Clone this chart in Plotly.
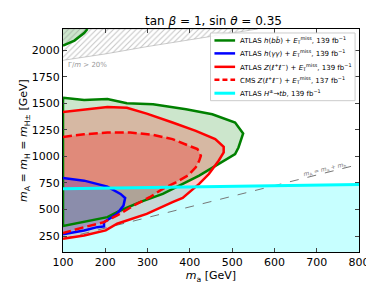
import plotly.graph_objects as go

# ---- data (GeV) ----
bb_x = [100, 150, 205, 251, 313, 391, 453, 507, 526, 515, 507, 468, 422, 375, 336, 282, 236, 205, 150, 100]
bb_y = [1553, 1531, 1541, 1500, 1491, 1444, 1397, 1319, 1216, 1084, 1022, 928, 819, 725, 647, 569, 491, 428, 381, 344]

bb2_x = [100, 127, 150, 158, 100]
bb2_y = [2044, 2091, 2162, 2200, 2200]

zll_x = [100, 150, 205, 251, 298, 359, 414, 460, 480, 480, 468, 445, 422, 406, 383, 359, 298, 228, 201, 150, 100]
zll_y = [1419, 1444, 1466, 1459, 1403, 1319, 1241, 1163, 1091, 1037, 960, 834, 741, 687, 609, 569, 459, 366, 303, 256, 225]

cms_x = [100, 150, 205, 259, 313, 359, 398, 418, 426, 422, 414, 395, 367, 336, 305, 267, 228, 197, 150, 100]
cms_y = [1184, 1209, 1225, 1225, 1203, 1163, 1100, 1069, 1006, 959, 897, 819, 756, 694, 616, 537, 444, 381, 334, 278]

gg_x = [100, 150, 205, 236, 247, 243, 228, 209, 197, 197, 181, 150, 100]
gg_y = [797, 772, 716, 647, 609, 537, 459, 412, 381, 341, 334, 303, 266]

htb_x = [100, 800]
htb_y = [695, 735]

width_x = [100, 200, 300, 400, 450, 560, 100]
width_y = [1905, 1965, 2035, 2100, 2130, 2200, 2200]

diag_x = [100, 800]
diag_y = [225, 925]

x_ticks = [100, 200, 300, 400, 500, 600, 700, 800]
y_ticks = [250, 500, 750, 1000, 1250, 1500, 1750, 2000]

legend_labels = [
    "ATLAS <i>h</i>(<i>b</i><i>b̄</i>) + <i>E</i><sub>T</sub><sup>miss</sup>, 139 fb<sup>−1</sup>",
    "ATLAS <i>h</i>(<i>γγ</i>) + <i>E</i><sub>T</sub><sup>miss</sup>, 139 fb<sup>−1</sup>",
    "ATLAS <i>Z</i>(<i>ℓ</i><sup>+</sup><i>ℓ</i><sup>−</sup>) + <i>E</i><sub>T</sub><sup>miss</sup>, 139 fb<sup>−1</sup>",
    "CMS <i>Z</i>(<i>ℓ</i><sup>+</sup><i>ℓ</i><sup>−</sup>) + <i>E</i><sub>T</sub><sup>miss</sup>, 137 fb<sup>−1</sup>",
    "ATLAS <i>H</i><sup>±</sup>→<i>tb</i>, 139 fb<sup>−1</sup>",
]
legend_colors = ["#008000", "blue", "red", "red", "cyan"]
legend_dash = ["solid", "solid", "solid", "dash", "solid"]

GREEN = "#008000"
fig = go.Figure()

# fills
fig.add_trace(go.Scatter(x=bb_x, y=bb_y, fill="toself", fillcolor="rgba(0,128,0,0.2)",
                         line=dict(width=0), mode="lines", showlegend=False, hoverinfo="skip"))
fig.add_trace(go.Scatter(x=bb2_x, y=bb2_y, fill="toself", fillcolor="rgba(0,128,0,0.2)",
                         line=dict(width=0), mode="lines", showlegend=False, hoverinfo="skip"))
fig.add_trace(go.Scatter(x=zll_x, y=zll_y, fill="toself", fillcolor="rgba(255,0,0,0.2)",
                         line=dict(width=0), mode="lines", showlegend=False, hoverinfo="skip"))
fig.add_trace(go.Scatter(x=cms_x, y=cms_y, fill="toself", fillcolor="rgba(255,0,0,0.25)",
                         line=dict(width=0), mode="lines", showlegend=False, hoverinfo="skip"))
fig.add_trace(go.Scatter(x=gg_x, y=gg_y, fill="toself", fillcolor="rgba(0,0,255,0.2)",
                         line=dict(width=0), mode="lines", showlegend=False, hoverinfo="skip"))
# cyan excluded region (on top of the other fills)
fig.add_trace(go.Scatter(x=htb_x + [800, 100], y=htb_y + [100, 100], fill="toself",
                         fillcolor="rgba(0,255,255,0.22)", line=dict(width=0),
                         mode="lines", showlegend=False, hoverinfo="skip"))
# hatched width region
fig.add_trace(go.Scatter(x=width_x, y=width_y, fill="toself", fillcolor="rgba(0,0,0,0)",
                         fillpattern=dict(shape="/", fgcolor="#888888", size=4, solidity=0.25),
                         line=dict(width=0.5, color="#999999"), mode="lines",
                         showlegend=False, hoverinfo="skip"))
# diagonal
fig.add_trace(go.Scatter(x=diag_x, y=diag_y, mode="lines",
                         line=dict(color="#777777", width=1, dash="dash"),
                         showlegend=False, hoverinfo="skip"))

# contour lines
fig.add_trace(go.Scatter(x=bb_x + [bb_x[0]], y=bb_y + [bb_y[0]], mode="lines",
                         line=dict(color=GREEN, width=2.5), showlegend=False, hoverinfo="skip"))
fig.add_trace(go.Scatter(x=bb2_x[:4], y=bb2_y[:4], mode="lines",
                         line=dict(color=GREEN, width=2.5), showlegend=False, hoverinfo="skip"))
fig.add_trace(go.Scatter(x=gg_x, y=gg_y, mode="lines", line=dict(color="blue", width=2.5),
                         showlegend=False, hoverinfo="skip"))
fig.add_trace(go.Scatter(x=zll_x, y=zll_y, mode="lines", line=dict(color="red", width=2.5),
                         showlegend=False, hoverinfo="skip"))
fig.add_trace(go.Scatter(x=cms_x, y=cms_y, mode="lines", line=dict(color="red", width=2.5, dash="9px,4px"),
                         showlegend=False, hoverinfo="skip"))
fig.add_trace(go.Scatter(x=htb_x, y=htb_y, mode="lines", line=dict(color="cyan", width=3),
                         showlegend=False, hoverinfo="skip"))

fig.add_annotation(x=158, y=1862, text="Γ/<i>m</i> > 20%", showarrow=False,
                   font=dict(size=7, color="#999999"))
fig.add_annotation(x=720, y=880, text="<i>m</i><sub>A</sub> = <i>m</i><sub>a</sub> + <i>m</i><sub>h</sub>",
                   showarrow=False, textangle=-14, font=dict(size=6, color="#777777"))

# manual legend (pixel positions converted to paper coords)
PX0, PX1, PY0, PY1 = 55, 356, 21, 245


def px(xp):
    return (xp - PX0) / (PX1 - PX0)


def py(yp):
    return (PY1 - yp) / (PY1 - PY0)


fig.add_shape(type="rect", xref="paper", yref="paper", x0=px(205), x1=px(352), y0=py(93), y1=py(25),
              fillcolor="rgba(255,255,255,0.85)", line=dict(color="#cccccc", width=1), layer="above")
rows = [32.5, 45.5, 59, 72, 85.5]
for lab, col, dsh, yy in zip(legend_labels, legend_colors, legend_dash, rows):
    fig.add_shape(type="line", xref="paper", yref="paper", x0=px(209), x1=px(230), y0=py(yy), y1=py(yy),
                  line=dict(color=col, width=2.5 if col != "cyan" else 3,
                            dash="5px,3px" if dsh == "dash" else "solid"), layer="above")
    fig.add_annotation(xref="paper", yref="paper", x=px(233), y=py(yy), text=lab, showarrow=False,
                       xanchor="left", yanchor="middle", font=dict(size=7, color="black"))

fig.update_layout(
    width=374, height=282,
    margin=dict(l=55, r=18, t=21, b=37),
    paper_bgcolor="white", plot_bgcolor="white",
    font=dict(family="DejaVu Sans", color="black"),
    title=dict(text="tan <i>β</i> = 1, sin <i>θ</i> = 0.35", x=(55 + 356) / 2 / 374, xanchor="center",
               y=0.955, yanchor="middle", font=dict(size=12)),
    showlegend=False,
)
fig.update_xaxes(range=[100, 800], tickvals=x_ticks, ticks="inside", ticklen=4,
                 showline=True, linecolor="black", linewidth=1, mirror="ticks",
                 showgrid=False, zeroline=False, tickfont=dict(size=11),
                 title=dict(text="<i>m</i><sub>a</sub> [GeV]", font=dict(size=11), standoff=1))
fig.update_yaxes(range=[100, 2200], tickvals=y_ticks, ticks="inside", ticklen=4,
                 showline=True, linecolor="black", linewidth=1, mirror="ticks",
                 showgrid=False, zeroline=False, tickfont=dict(size=11),
                 title=dict(text="<i>m</i><sub>A</sub> = <i>m</i><sub>H</sub> = <i>m</i><sub>H±</sub> [GeV]",
                            font=dict(size=11), standoff=1))

fig.write_html("out.html")
